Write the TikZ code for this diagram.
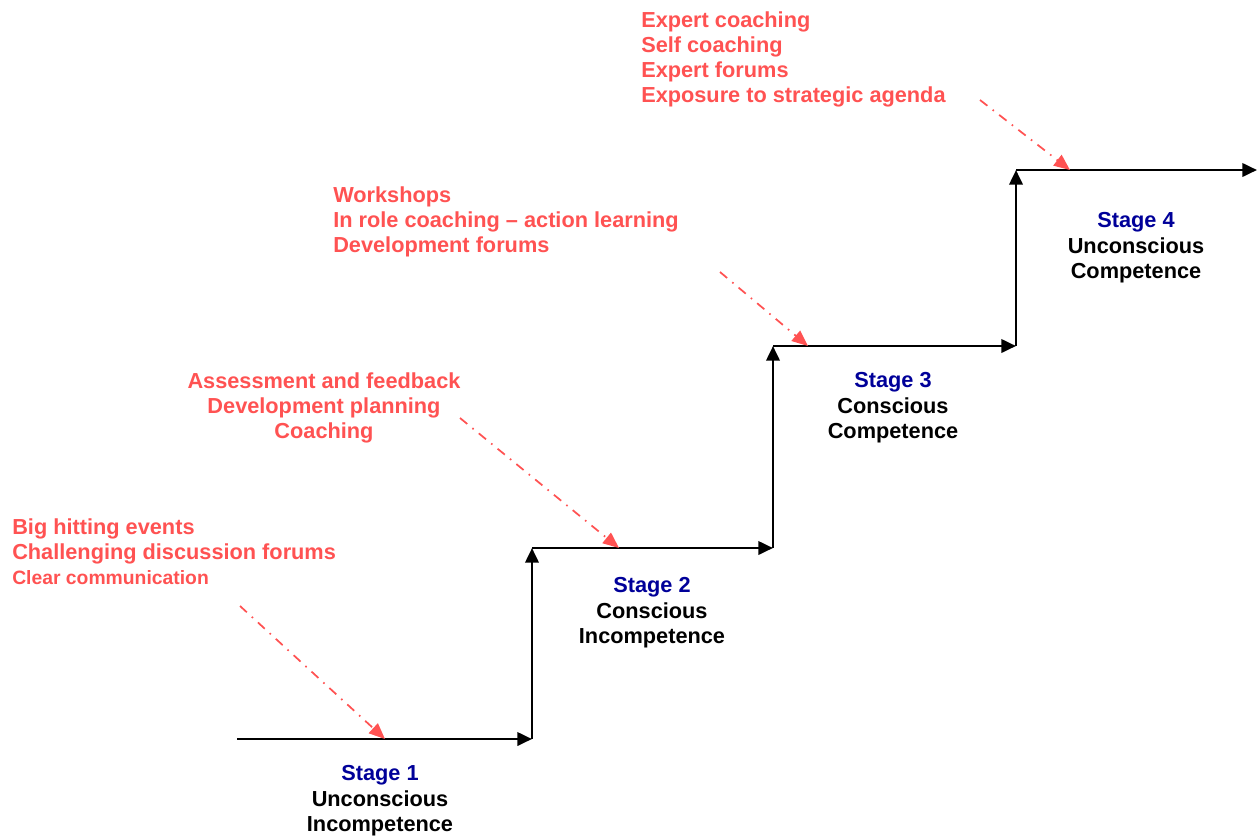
\documentclass[tikz,border=0pt]{standalone}
\usepackage{fontspec}
\setmainfont{Liberation Sans}
\usepackage{xcolor}
\usepackage{tikz}
\usetikzlibrary{arrows.meta}
\definecolor{hintred}{RGB}{255,82,82}
\definecolor{stageblue}{RGB}{0,0,153}
\tikzset{stair/.style = {line width=2pt,-{Triangle[length=11pt,width=10pt]}}}
\tikzset{hintline/.style = {hintred,line width=1.3pt,dash pattern=on 7pt off 5pt on 1.2pt off 5pt,-{Triangle[length=12pt,width=10pt]}}}

\begin{document}
\begin{tikzpicture}[x=0.75pt,y=-0.75pt,
    stage/.style={align=center,anchor=north,inner sep=0,font=\bfseries\fontsize{16.3}{19.2}\selectfont},
    hint/.style={hintred,inner sep=0,font=\bfseries\fontsize{16.3}{18.8}\selectfont}]
                \useasboundingbox (0,0) rectangle (1259,839);

                % the steps
                \coordinate (s0) at (237,739);
                \coordinate (s1) at (532,739);
                \coordinate (s2) at (532,548);
                \coordinate (s3) at (773,548);
                \coordinate (s4) at (773,346);
                \coordinate (s5) at (1016,346);
                \coordinate (s6) at (1016,170);
                \coordinate (s7) at (1257,170);

                \path[stair] (s0) edge (s1);
                \path[stair] (s1) edge (s2);
                \path[stair] (s2) edge (s3);
                \path[stair] (s3) edge (s4);
                \path[stair] (s4) edge (s5);
                \path[stair] (s5) edge (s6);
                \path[stair] (s6) edge (s7);

                % stage labels
                \node[stage] (st1) at (380,765) {\textcolor{stageblue}{Stage 1}\\Unconscious\\Incompetence};
                \node[stage] (st2) at (652,577) {\textcolor{stageblue}{Stage 2}\\Conscious\\Incompetence};
                \node[stage] (st3) at (893,372) {\textcolor{stageblue}{Stage 3}\\Conscious\\Competence};
                \node[stage] (st4) at (1136,212) {\textcolor{stageblue}{Stage 4}\\Unconscious\\Competence};

                % interventions
                \node[hint,align=left,anchor=north west] (h1) at (12,518) {Big hitting events\\Challenging discussion forums\\{\fontsize{14.5}{18.8}\selectfont Clear communication}};
                \node[hint,align=center,anchor=north] (h2) at (324,372) {Assessment and feedback\\Development planning\\Coaching};
                \node[hint,align=left,anchor=north west] (h3) at (333,186) {Workshops\\In role coaching -- action learning\\Development forums};
                \node[hint,align=left,anchor=north west] (h4) at (641,11) {Expert coaching\\Self coaching\\Expert forums\\Exposure to strategic agenda};

                \coordinate (a1) at (240,606);
                \coordinate (b1) at (385,739);
                \coordinate (a2) at (460,418);
                \coordinate (b2) at (619,548);
                \coordinate (a3) at (720,272);
                \coordinate (b3) at (808,346);
                \coordinate (a4) at (980,100);
                \coordinate (b4) at (1070,170);

                \path[hintline] (a1) edge (b1);
                \path[hintline] (a2) edge (b2);
                \path[hintline] (a3) edge (b3);
                \path[hintline] (a4) edge (b4);
            \end{tikzpicture}
\end{document}
